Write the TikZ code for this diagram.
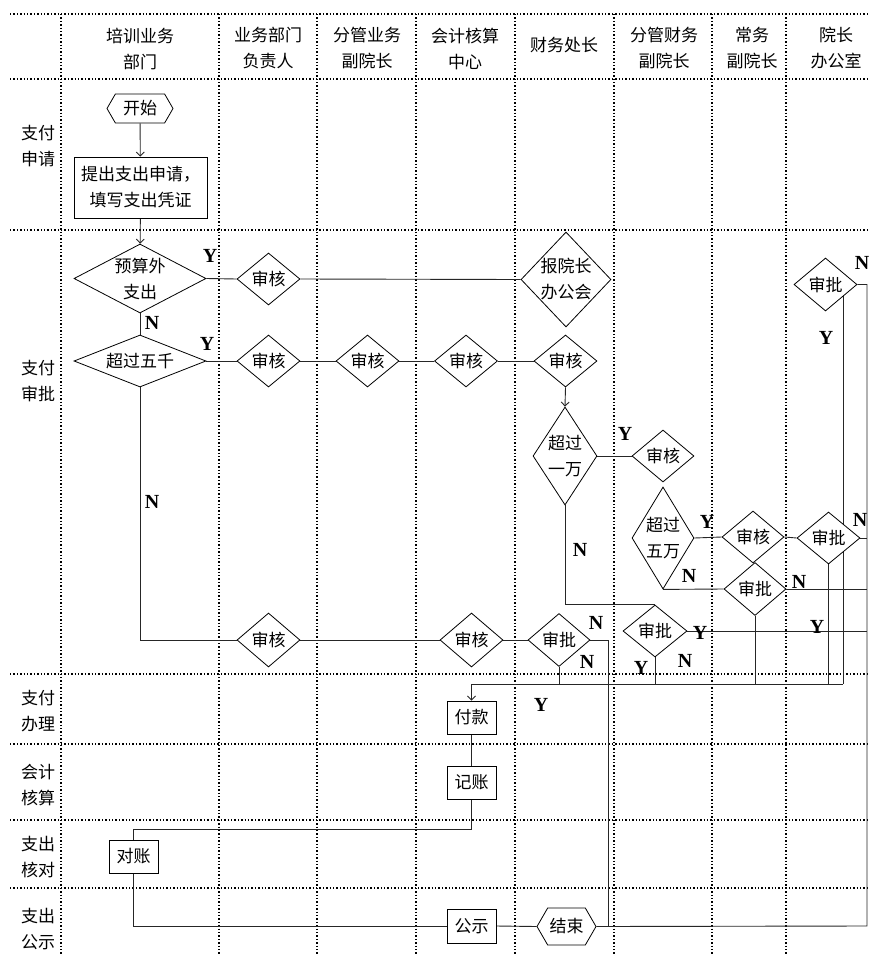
\documentclass[tikz,border=0pt]{standalone}
\usepackage{fontspec}
\setmainfont{Noto Sans CJK SC}
\newfontfamily\ynfont{Liberation Serif}
\usetikzlibrary{shapes.geometric,shapes.symbols,backgrounds,arrows.meta}
\begin{document}
\begin{tikzpicture}[x=1pt,y=-1pt,
  every node/.style={font=\fontsize{17}{26}\selectfont},
  grid/.style={line width=1.3pt, dash pattern=on 1.3pt off 2.1pt},
  conn/.style={line width=0.9pt, draw=black!85},
  arr/.style={conn, -{Straight Barb[length=4pt,width=8pt]}},
  dia/.style={shape=diamond, draw, fill=white, line width=0.8pt, inner sep=0pt},
  hexa/.style={shape=signal, signal to=east and west, signal pointer angle=120, draw, fill=white, line width=0.8pt, inner sep=0pt},
  box/.style={rectangle, draw, fill=white, line width=0.8pt, inner sep=0pt, align=center},
  yn/.style={font=\ynfont\bfseries\fontsize{20}{20}\selectfont, inner sep=0pt},
  hd/.style={align=center, inner sep=0pt},
]
\useasboundingbox (0,0) rectangle (869,956);

% header
\node[hd] (h1) at (140,48.5) {培训业务\\部门};
\node[hd] (h2) at (268,48.5) {业务部门\\负责人};
\node[hd] (h3) at (367,48.5) {分管业务\\副院长};
\node[hd] (h4) at (465,48.5) {会计核算\\中心};
\node[hd] (h5) at (564,45) {财务处长};
\node[hd] (h6) at (664,48.5) {分管财务\\副院长};
\node[hd] (h7) at (752,48.5) {常务\\副院长};
\node[hd] (h8) at (836,48.5) {院长\\办公室};
% row labels
\node[hd] (l1) at (38,146.5) {支付\\申请};
\node[hd] (l2) at (38,381) {支付\\审批};
\node[hd] (l3) at (38,711.5) {支付\\办理};
\node[hd] (l4) at (38,785) {会计\\核算};
\node[hd] (l5) at (38,857.5) {支出\\核对};
\node[hd] (l6) at (38,929.5) {支出\\公示};

% flow nodes
\node[hexa, minimum width=66pt, minimum height=29pt, label={[hd]center:开始}] (start) at (140,108.5) {};
\node[box, minimum width=133pt, minimum height=61pt] (apply) at (140.5,187.5) {提出支出申请，\\填写支出凭证};
\node[dia, minimum width=132pt, minimum height=69pt, label={[hd]center:预算外\\支出}] (d1) at (140,278.5) {};
\node[dia, minimum width=132pt, minimum height=52pt, label={[hd]center:超过五千}] (d2) at (140,361) {};
\node[dia, minimum width=63pt, minimum height=52pt, label={[hd]center:审核}] (a1) at (268.5,279) {};
\node[dia, minimum width=90pt, minimum height=95pt, label={[hd]center:报院长\\办公会}] (bao) at (566,279.5) {};
\node[dia, minimum width=63pt, minimum height=53pt, label={[hd]center:审批}] (p1) at (825.5,284.5) {};
\node[dia, minimum width=63pt, minimum height=52pt, label={[hd]center:审核}] (r1) at (268.5,361) {};
\node[dia, minimum width=63pt, minimum height=52pt, label={[hd]center:审核}] (r2) at (367.5,361) {};
\node[dia, minimum width=63pt, minimum height=52pt, label={[hd]center:审核}] (r3) at (466,361) {};
\node[dia, minimum width=63pt, minimum height=52pt, label={[hd]center:审核}] (r4) at (565.5,361) {};
\node[dia, minimum width=64pt, minimum height=98pt, label={[hd]center:超过\\一万}] (d3) at (565,456) {};
\node[dia, minimum width=62pt, minimum height=52pt, label={[hd]center:审核}] (r5) at (663,456) {};
\node[dia, minimum width=62pt, minimum height=102pt, label={[hd]center:超过\\五万}] (d4) at (663,538) {};
\node[dia, minimum width=62pt, minimum height=52pt, label={[hd]center:审核}] (r6) at (753,537) {};
\node[dia, minimum width=63pt, minimum height=52pt, label={[hd]center:审批}] (p2) at (828.5,538) {};
\node[dia, minimum width=62pt, minimum height=53pt, label={[hd]center:审批}] (p3) at (755,589) {};
\node[dia, minimum width=64pt, minimum height=52pt, label={[hd]center:审批}] (p4) at (655,631) {};
\node[dia, minimum width=63pt, minimum height=54pt, label={[hd]center:审核}] (b1) at (268.5,640) {};
\node[dia, minimum width=63pt, minimum height=54pt, label={[hd]center:审核}] (b2) at (471.5,640) {};
\node[dia, minimum width=62pt, minimum height=53pt, label={[hd]center:审批}] (p5) at (559,640) {};
\node[box, minimum width=49pt, minimum height=33pt] (pay) at (471.5,717.5) {付款};
\node[box, minimum width=49pt, minimum height=33pt] (book) at (471.5,782.5) {记账};
\node[box, minimum width=49pt, minimum height=33pt] (check) at (133.5,856.5) {对账};
\node[box, minimum width=49pt, minimum height=34pt] (pub) at (471.5,926) {公示};
\node[hexa, minimum width=59pt, minimum height=37pt, label={[hd]center:结束}] (end) at (566.5,926.5) {};

% Y / N labels
\node[yn] (y1) at (210,256) {Y};
\node[yn] (n1) at (152,323) {N};
\node[yn] (y2) at (207,344) {Y};
\node[yn] (n2) at (152,502) {N};
\node[yn] (y3) at (625,434) {Y};
\node[yn] (n3) at (580,550) {N};
\node[yn] (y4) at (707,522) {Y};
\node[yn] (n4) at (689,576) {N};
\node[yn] (n5) at (860,520) {N};
\node[yn] (n6) at (799,582) {N};
\node[yn] (y5) at (700,633) {Y};
\node[yn] (y6) at (817,627) {Y};
\node[yn] (n7) at (596,623) {N};
\node[yn] (n8) at (587,662) {N};
\node[yn] (y7) at (641,668) {Y};
\node[yn] (n9) at (685,661) {N};
\node[yn] (y8) at (541,705) {Y};
\node[yn] (y9) at (826,338) {Y};
\node[yn] (n10) at (862,263) {N};

% coordinates
\coordinate (eTop) at (867,284.5);
\coordinate (eBot) at (867,926);
\coordinate (busL) at (471.5,684);
\coordinate (busR) at (843,684);
\coordinate (p1y) at (843,284.5);
\coordinate (p5n) at (608,926);
\coordinate (bk) at (471.5,829);

% grid
\begin{scope}[on background layer]
  \foreach \y in {14,79,230,674,744,820,888} \draw[grid] (10,\y) -- (869,\y);
  \foreach \x in {61,219,317,416,515,614,712,786} \draw[grid] (\x,14) -- (\x,956);
\end{scope}

% connectors
\begin{scope}[on background layer]
  \draw[arr] (start) -- (apply);
  \draw[arr] (apply) -- (d1);
  \draw[conn] (d1.east) -- (a1.west);
  \draw[conn] (a1.east) -- (bao.west);
  \draw[conn] (d1.south) -- (d2.north);
  \draw[conn] (d2.east) -- (r1.west);
  \draw[conn] (r1.east) -- (r2.west);
  \draw[conn] (r2.east) -- (r3.west);
  \draw[conn] (r3.east) -- (r4.west);
  \draw[arr] (r4.south) -- (d3.north);
  \draw[conn] (d3.east) -- (r5.west);
  \draw[conn] (d3.south) |- (p4.north);
  \draw[conn] (d4.east) -- (r6.west);
  \draw[conn] (r6.east) -- (p2.west);
  \draw[conn] (d4.south) -- (p3.west);
  \draw[conn] (p2.east) -- (p2.east -| eBot);
  \draw[conn] (p3.east) -- (p3.east -| eBot);
  \draw[conn] (p4.east) -- (p4.east -| eBot);
  \draw[conn] (p1y) -- (busR);
  \draw[conn] (d2.south) |- (b1.west);
  \draw[conn] (b1.east) -- (b2.west);
  \draw[conn] (b2.east) -- (p5.west);
  \draw[conn] (p5.east) -| (p5n);
  \draw[conn] (p5.south) -- (p5.south |- busL);
  \draw[conn] (p4.south) -- (p4.south |- busL);
  \draw[conn] (p3.south) -- (p3.south |- busL);
  \draw[conn] (p2.south) -- (p2.south |- busL);
  \draw[conn] (busL) -- (busR);
  \draw[arr] (busL) -- (pay.north);
  \draw[conn] (pay) -- (book);
  \draw[conn] (book.south) -- (bk) -| (check.north);
  \draw[conn] (check.south) |- (pub.west);
  \draw[conn] (pub.east) -- (end.west);
  \draw[conn] (end.east) -- (eBot) -- (eTop) -- (p1.east);
\end{scope}
\end{tikzpicture}
\end{document}
